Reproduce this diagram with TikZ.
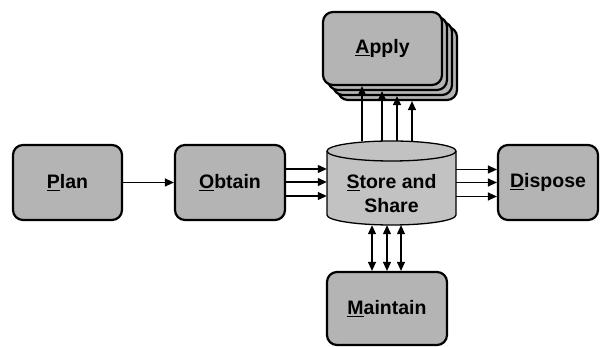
\documentclass[tikz,border=0pt]{standalone}
\usepackage{fontspec}
\setmainfont{Liberation Sans}
\usetikzlibrary{arrows.meta}
\definecolor{boxgray}{RGB}{180,180,180}
\definecolor{cylgray}{RGB}{194,194,194}
\begin{document}
\begin{tikzpicture}[x=1pt,y=1pt,
  stage/.style={draw=black, line width=2.2pt, fill=boxgray, rounded corners=10pt,
    inner sep=0pt, minimum height=75pt,
    font=\bfseries\fontsize{19.5}{24}\selectfont, align=center},
  tip/.tip={Triangle[length=9pt,width=8pt]},
  flow/.style={line width=1.2pt, -tip},
  bothways/.style={line width=1.2pt, tip-tip}
]
\useasboundingbox (0,0) rectangle (600,347);

% process stages
\node[stage, minimum width=109pt] (plan)    at (67.5,164.5) {\underline{P}lan};
\node[stage, minimum width=110pt] (obtain)  at (230,164.5)  {\underline{O}btain};
\node[stage, minimum width=100pt] (dispose) at (548,164.5)  {\underline{D}ispose};
\node[stage, minimum width=120pt, minimum height=73pt] (maintain) at (387,38.5) {\underline{M}aintain};

% stacked Apply boxes, back to front
\foreach \k in {3,2,1}
  \node[stage, minimum width=119pt, minimum height=73pt] (apply\k) at (382.5+5*\k,298.5-5*\k) {};
\node[stage, minimum width=119pt, minimum height=73pt] (apply) at (382.5,298.5) {\underline{A}pply};

% Store and Share cylinder
\node[minimum width=129pt, minimum height=84pt, inner sep=0pt] (store) at (391.5,164) {};
\draw[line width=1.3pt, fill=cylgray]
  (327,196) -- (327,132) arc[start angle=180, end angle=360, x radius=64.5, y radius=10]
  -- (456,196) arc[start angle=0, end angle=180, x radius=64.5, y radius=10] -- cycle;
\draw[line width=1.3pt] (327,196) arc[start angle=180, end angle=360, x radius=64.5, y radius=10];
\node[font=\bfseries\fontsize{19.5}{24}\selectfont, align=center] (storelabel) at (391.5,153)
  {\underline{S}tore and\\Share};

% connectors
\draw[flow] (plan) -- (obtain);
\foreach \d in {13.5,0.5,-13.5} {
  \draw[flow] ([yshift=\d pt]obtain.east) -- ([yshift=\d pt]obtain.east -| store.west);
  \draw[flow] ([yshift=\d pt]store.east) -- ([yshift=\d pt]store.east -| dispose.west);
}
\draw[flow] ([xshift=-29.5pt]store.north) -- ([xshift=-29.5pt]store.north |- apply.south);
\draw[flow] ([xshift=-9.5pt]store.north)  -- ([xshift=-9.5pt]store.north |- apply1.south);
\draw[flow] ([xshift=5.5pt]store.north)   -- ([xshift=5.5pt]store.north |- apply2.south);
\draw[flow] ([xshift=20.5pt]store.north)  -- ([xshift=20.5pt]store.north |- apply3.south);
\foreach \d in {-19.5,-4.5,9.5}
  \draw[bothways] ([xshift=\d pt]store.south) -- ([xshift=\d pt]store.south |- maintain.north);
\end{tikzpicture}
\end{document}
